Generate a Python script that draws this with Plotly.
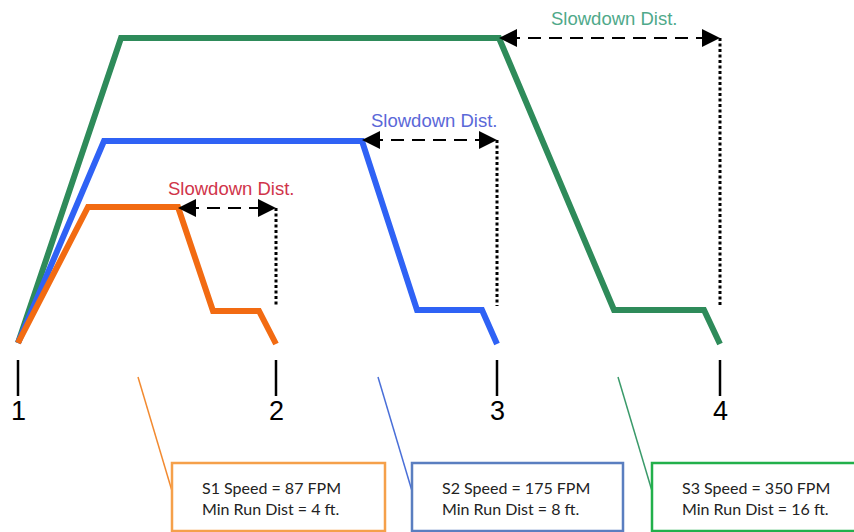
import plotly.graph_objects as go

# speed profiles (pixel space of the original diagram: x = travel, y = down is lower speed)
s1_x = [18, 88, 178, 213, 259, 276]
s1_y = [343, 207, 207, 311, 311, 344]
s2_x = [18, 104, 362, 417, 482, 497]
s2_y = [343, 141, 141, 310, 310, 344]
s3_x = [18, 121, 499, 614, 704, 720]
s3_y = [343, 38, 38, 310, 310, 344]

stop_x = [18, 276, 497, 720]
stop_labels = ["1", "2", "3", "4"]

# slowdown distance: (start x, end x, level y)
slow_start = [178, 362, 499]
slow_end = [276, 497, 720]
slow_y = [208, 140, 38]
slow_label_color = ["#d0344a", "#5a68d8", "#4fa98a"]

box_text = [
    "S1 Speed = 87 FPM<br>Min Run Dist = 4 ft.",
    "S2 Speed = 175 FPM<br>Min Run Dist = 8 ft.",
    "S3 Speed = 350 FPM<br>Min Run Dist = 16 ft.",
]
box_x0 = [172, 412, 652]
box_x1 = [385, 623, 860]
box_color = ["#f5a04a", "#5a7ec0", "#22b04b"]
leader_color = ["#f28a30", "#4a6fd8", "#3a9a6a"]
leader_x0 = [138, 378, 618]

line_colors = ["#f26b12", "#2f62f5", "#2e8b5a"]

fig = go.Figure()

# profiles: green under blue under orange
for xs, ys, c in [(s3_x, s3_y, line_colors[2]), (s2_x, s2_y, line_colors[1]), (s1_x, s1_y, line_colors[0])]:
    fig.add_trace(go.Scatter(x=xs, y=ys, mode="lines", line=dict(color=c, width=6),
                             hoverinfo="skip", showlegend=False))

for i in range(3):
    # dashed span
    fig.add_trace(go.Scatter(x=[slow_start[i] + 8, slow_end[i] - 8], y=[slow_y[i], slow_y[i]], mode="lines",
                             line=dict(color="black", width=2, dash="13px,8px"),
                             hoverinfo="skip", showlegend=False))
    # dotted drop down to the stop
    fig.add_trace(go.Scatter(x=[slow_end[i], slow_end[i]], y=[slow_y[i], 306], mode="lines",
                             line=dict(color="black", width=3, dash="3px,2.5px"),
                             hoverinfo="skip", showlegend=False))
    for tip, tail in [(slow_start[i], slow_start[i] + 14), (slow_end[i], slow_end[i] - 14)]:
        fig.add_annotation(x=tip, y=slow_y[i], ax=tail, ay=slow_y[i], axref="x", ayref="y",
                           xref="x", yref="y", text="", showarrow=True, arrowhead=2,
                           arrowsize=1.8, arrowwidth=2, arrowcolor="black", standoff=0)
    fig.add_annotation(x=(slow_start[i] + slow_end[i]) / 2 + 4, y=slow_y[i] - 20, text="Slowdown Dist.",
                       showarrow=False, font=dict(family="Liberation Sans, Arial", size=18.5,
                                                  color=slow_label_color[i]))

# stop ticks and numbers
for x, lab in zip(stop_x, stop_labels):
    fig.add_trace(go.Scatter(x=[x, x], y=[360, 396], mode="lines", line=dict(color="black", width=2.5),
                             hoverinfo="skip", showlegend=False))
    fig.add_annotation(x=x, y=411, text=lab, showarrow=False,
                       font=dict(family="Liberation Sans, Arial", size=27, color="black"))

# callout boxes with leader lines
for i in range(3):
    fig.add_trace(go.Scatter(x=[leader_x0[i], box_x0[i]], y=[377, 491], mode="lines",
                             line=dict(color=leader_color[i], width=1.5), hoverinfo="skip", showlegend=False))
    fig.add_shape(type="rect", x0=box_x0[i], x1=box_x1[i], y0=463, y1=531, xref="x", yref="y",
                  line=dict(color=box_color[i], width=2.5), fillcolor="white")
    fig.add_annotation(x=box_x0[i] + 28, y=498, text=box_text[i], showarrow=False, xanchor="left",
                       align="left", font=dict(family="Lato, Open Sans", size=16, color="#222222"))

fig.update_xaxes(range=[0, 854], visible=False, fixedrange=True)
fig.update_yaxes(range=[532, 0], visible=False, fixedrange=True)
fig.update_layout(width=854, height=532, margin=dict(l=0, r=0, t=0, b=0),
                  plot_bgcolor="white", paper_bgcolor="white")

fig.write_html("out.html", config={"displayModeBar": False},
               post_script="document.body.style.margin='0';")
